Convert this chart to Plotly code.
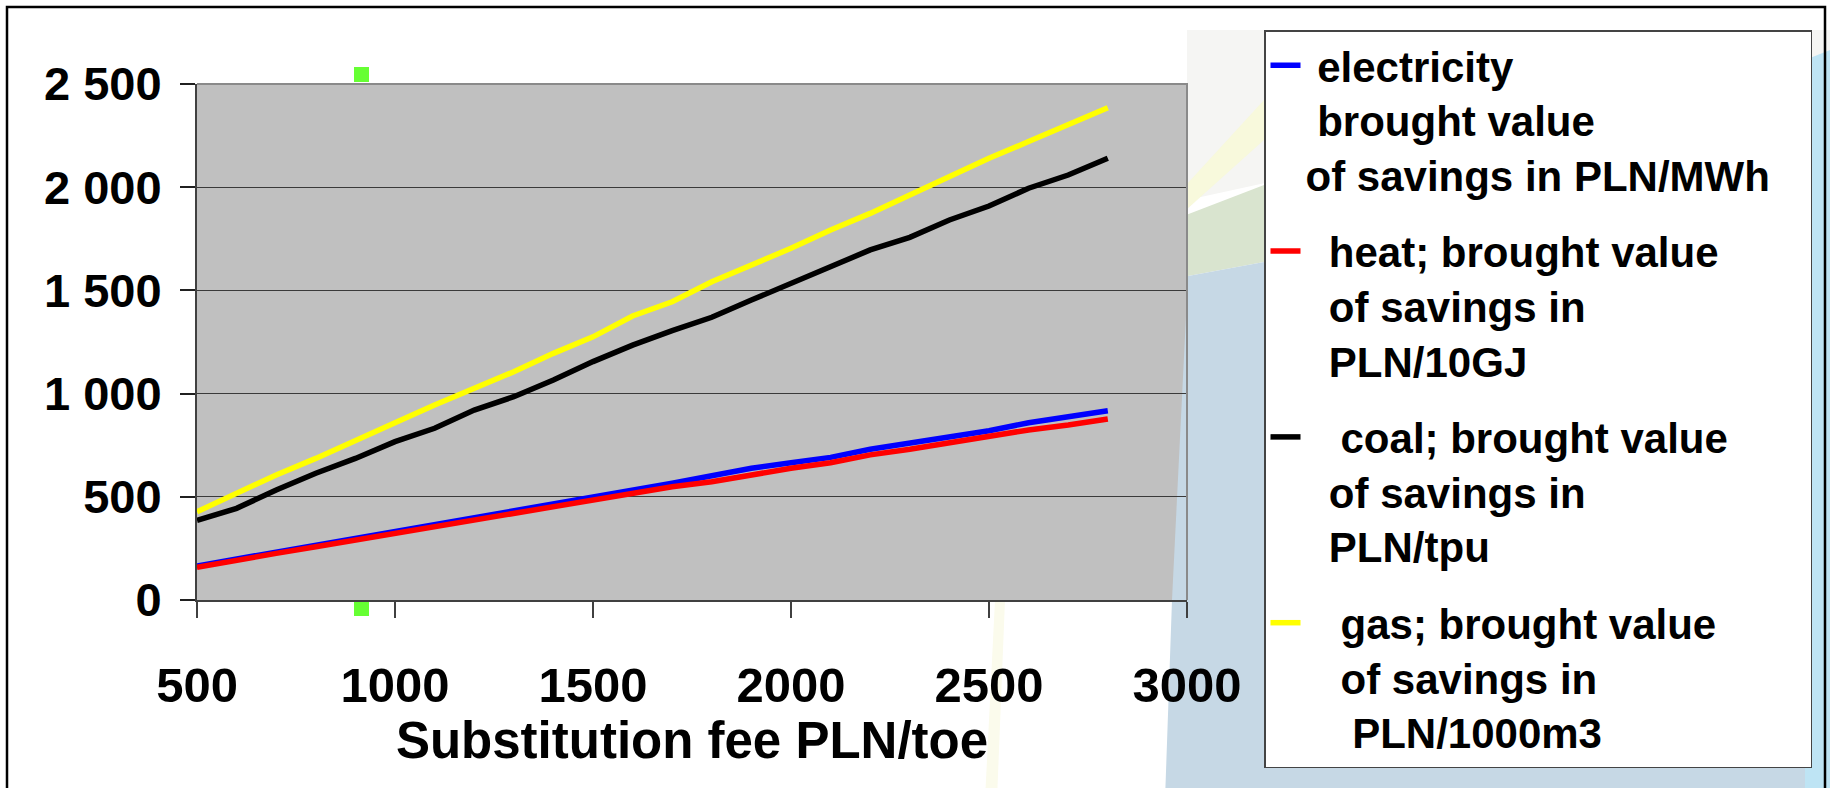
import plotly.graph_objects as go

# ---------------- data ----------------
fee = [500, 600, 700, 800, 900, 1000, 1100, 1200, 1300, 1400, 1500, 1600,
       1700, 1800, 1900, 2000, 2100, 2200, 2300, 2400, 2500, 2600, 2700, 2800]
electricity = [165, 198, 231, 264, 297, 330, 364, 398, 433, 463, 497, 530,
               566, 602, 638, 665, 691, 730, 759, 791, 820, 859, 888, 917]
heat = [158, 194, 226, 258, 291, 323, 355, 388, 423, 452, 484, 517,
        549, 573, 606, 638, 665, 703, 730, 762, 791, 824, 848, 877]
coal = [386, 444, 533, 614, 686, 767, 832, 920, 985, 1066, 1155, 1235,
        1305, 1370, 1453, 1534, 1615, 1696, 1757, 1841, 1909, 1995, 2059, 2140]
gas = [428, 520, 606, 686, 775, 859, 945, 1025, 1106, 1195, 1275, 1376,
       1445, 1542, 1623, 1704, 1793, 1873, 1962, 2051, 2140, 2221, 2301, 2385]

NB = "\u00a0"
series_names = [
    NB + "electricity<br>" + NB + "brought value<br>of savings in PLN/MWh" + NB * 3,
    NB * 2 + "heat; brought value<br>" + NB * 2 + "of savings in<br>" + NB * 2 + "PLN/10GJ",
    NB * 3 + "coal; brought value<br>" + NB * 2 + "of savings in<br>" + NB * 2 + "PLN/tpu",
    NB * 3 + "gas; brought value<br>" + NB * 3 + "of savings in<br>" + NB * 4 + "PLN/1000m3",
]
series_values = [electricity, heat, coal, gas]
series_colors = ["#0000FF", "#FF0000", "#000000", "#FFFF00"]

y_tick_vals = [0, 500, 1000, 1500, 2000, 2500]
y_tick_text = ["0", "500", "1 000", "1 500", "2 000", "2 500"]
x_tick_vals = [500, 1000, 1500, 2000, 2500, 3000]
x_tick_text = ["500", "1000", "1500", "2000", "2500", "3000"]
x_title = "Substitution fee PLN/toe"

# ---------------- layout geometry ----------------
W, H = 1837, 788
L, R, T, B = 197, 1187, 84, 600


def px(xp):
    return (xp - L) / (R - L)


def py(yp):
    return (B - yp) / (B - T)


FONT = "Liberation Sans, Arial, Helvetica, sans-serif"

fig = go.Figure()
for name, vals, col in zip(series_names, series_values, series_colors):
    fig.add_trace(go.Scatter(
        x=fee, y=vals, mode="lines", name=name, legendgroup=name,
        line=dict(color=col, width=5.5), hoverinfo="x+y",
    ))


def poly(points):
    return "M " + " L ".join(f"{px(a):.5f},{py(b):.5f}" for a, b in points) + " Z"


shapes = []
# decorative slide background
shapes.append(dict(type="path", xref="paper", yref="paper", layer="below",
                   path=poly([(1187, 30), (1830, 30), (1830, 60), (1187, 200)]),
                   fillcolor="#F5F5F3", line=dict(width=0)))
shapes.append(dict(type="path", xref="paper", yref="paper", layer="below",
                   path=poly([(1186, 215), (1264, 185), (1264, 262), (1188, 276)]),
                   fillcolor="#D9E4CF", line=dict(width=0)))
shapes.append(dict(type="path", xref="paper", yref="paper", layer="below",
                   path=poly([(1186, 185), (1264, 100), (1264, 140), (1186, 210)]),
                   fillcolor="#F8F9DC", line=dict(width=0)))
shapes.append(dict(type="path", xref="paper", yref="paper", layer="below",
                   path=poly([(1165, 800), (1172, 600), (1188, 276), (1264, 262),
                              (1800, 70), (1830, 60), (1830, 800)]),
                   fillcolor="#C6D8E5", line=dict(width=0)))
shapes.append(dict(type="path", xref="paper", yref="paper", layer="below",
                   path=poly([(1805, 60), (1830, 50), (1830, 800), (1805, 800)]),
                   fillcolor="#BEE4F4", line=dict(width=0)))
shapes.append(dict(type="path", xref="paper", yref="paper", layer="below",
                   path=poly([(985, 800), (995, 600), (1005, 600), (997, 800)]),
                   fillcolor="#FBFBEC", line=dict(width=0)))
# outer frame
shapes.append(dict(type="rect", xref="paper", yref="paper", layer="above",
                   x0=px(7), x1=px(1825), y0=py(810), y1=py(7),
                   line=dict(color="black", width=2.5), fillcolor="rgba(0,0,0,0)"))
# plot-area border (top & right)
shapes.append(dict(type="path", xref="paper", yref="paper", layer="above",
                   path="M 0,1 L 1,1 L 1,0",
                   line=dict(color="#8A8A8A", width=2)))
# green selection handles
for (y0, y1) in [(67, 82), (602, 616)]:
    shapes.append(dict(type="rect", xref="paper", yref="paper", layer="above",
                       x0=px(354), x1=px(369), y0=py(y1), y1=py(y0),
                       fillcolor="#66FF33", line=dict(width=0)))

fig.update_layout(
    width=W, height=H,
    margin=dict(l=L, r=W - R, t=T, b=H - B, autoexpand=False),
    paper_bgcolor="white",
    plot_bgcolor="#C0C0C0",
    font=dict(family=FONT, color="black", size=49, weight="bold"),
    shapes=shapes,
    showlegend=True,
    legend=dict(
        x=px(1264), y=py(30), xanchor="left", yanchor="top",
        bgcolor="white", bordercolor="#444444", borderwidth=1.5,
        font=dict(family=FONT, size=42, color="black", weight="bold"),
        valign="top", tracegroupgap=19, itemwidth=30,
        traceorder="grouped", maxheight=770,
    ),
    xaxis=dict(
        range=[500, 3000], tickmode="array", tickvals=x_tick_vals, ticktext=x_tick_text,
        showgrid=False, zeroline=False,
        showline=True, linecolor="#404040", linewidth=2,
        ticks="outside", ticklen=16, tickwidth=1.5, tickcolor="#404040",
        ticklabelstandoff=25,
        tickfont=dict(family=FONT, size=49, color="black", weight="bold"),
        title=dict(text=x_title, standoff=6,
                   font=dict(family=FONT, size=51, color="black", weight="bold")),
    ),
    yaxis=dict(
        range=[0, 2500], tickmode="array", tickvals=y_tick_vals, ticktext=y_tick_text,
        showgrid=True, gridcolor="#3A3A3A", gridwidth=1.3, zeroline=False,
        showline=True, linecolor="#404040", linewidth=2,
        ticks="outside", ticklen=15, tickwidth=1.5, tickcolor="#202020",
        ticklabelstandoff=9,
        tickfont=dict(family=FONT, size=47, color="black", weight="bold"),
    ),
)

fig.write_html(
    "out.html",
    config={"displayModeBar": False},
    post_script="document.body.style.margin='0px';document.body.style.overflow='hidden';",
)
